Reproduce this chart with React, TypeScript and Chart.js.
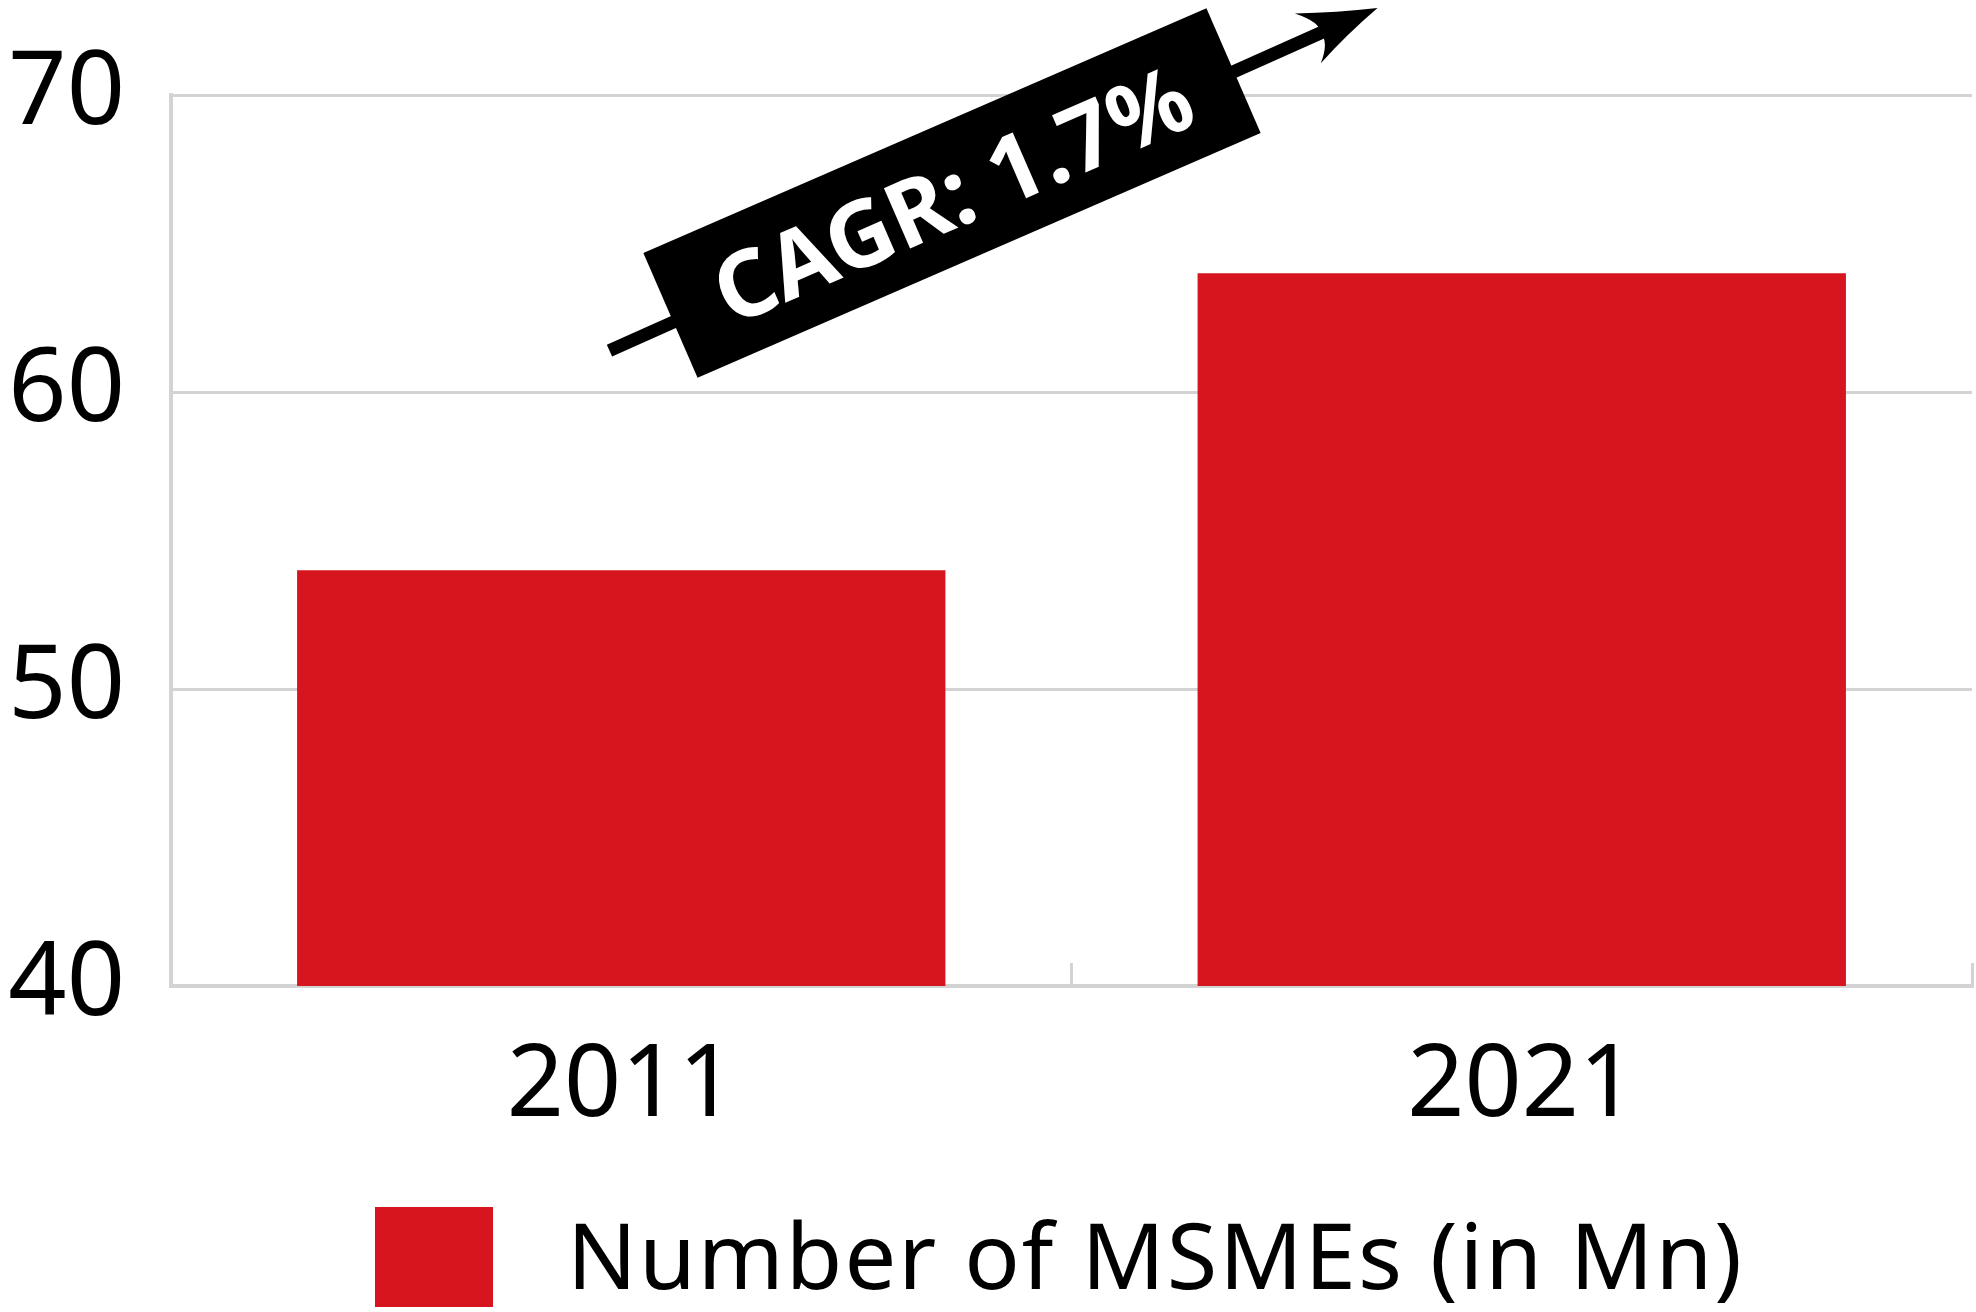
import React, { useEffect, useRef } from "react";
import { Chart, registerables } from "chart.js";

Chart.register(...registerables);

// ---- data ----
const categories = ["2011", "2021"];
const msmeValues = [54, 64];
const seriesLabel = "Number of MSMEs (in Mn)";
const yMin = 40;
const yMax = 70;
const yStep = 10;
const cagrLabel = "CAGR: 1.7%";

// ---- style ----
const FONT = "'Noto Sans', 'DejaVu Sans', sans-serif";
const RED = "#D7151F";
const GRID = "#D3D3D3";

export default function App() {
  const ref = useRef<HTMLCanvasElement>(null);

  useEffect(() => {
    document.body.style.margin = "0";
    const canvas = ref.current;
    if (!canvas) return;

    const overlay = {
      id: "overlay",
      afterDraw(chart: any) {
        const ctx = chart.ctx as CanvasRenderingContext2D;
        // ----- legend -----
        ctx.save();
        ctx.fillStyle = RED;
        ctx.fillRect(375, 1207, 118, 100);
        ctx.fillStyle = "#000";
        ctx.font = `400 92px ${FONT}`;
        (ctx as any).letterSpacing = "2px";
        ctx.textAlign = "left";
        ctx.textBaseline = "middle";
        ctx.fillText(chart.data.datasets[0].label, 567, 1263);
        ctx.restore();

        // ----- CAGR annotation -----
        ctx.save();
        ctx.translate(952, 193);
        ctx.rotate((-23.5 * Math.PI) / 180);
        // arrow shaft
        ctx.strokeStyle = "#000";
        ctx.lineWidth = 13;
        ctx.beginPath();
        ctx.moveTo(-377, 8);
        ctx.lineTo(420, 0);
        ctx.stroke();
        // arrow head (swept)
        ctx.fillStyle = "#000";
        ctx.beginPath();
        ctx.moveTo(464, 0);
        ctx.quadraticCurveTo(425, -12, 386, -28);
        ctx.quadraticCurveTo(406, -10, 402, 0);
        ctx.quadraticCurveTo(406, 12, 390, 28);
        ctx.quadraticCurveTo(425, 12, 464, 0);
        ctx.closePath();
        ctx.fill();
        // black box
        ctx.fillRect(-307, -68, 614, 136);
        // text
        ctx.fillStyle = "#fff";
        ctx.font = `700 92px ${FONT}`;
        ctx.textAlign = "center";
        ctx.textBaseline = "middle";
        ctx.fillText(cagrLabel, 0, 8);
        ctx.restore();
      },
    };

    const chart = new Chart(canvas, {
      type: "bar",
      data: {
        labels: categories,
        datasets: [
          {
            label: seriesLabel,
            data: msmeValues,
            backgroundColor: RED,
            borderWidth: 0,
            categoryPercentage: 1,
            barPercentage: 0.72,
          },
        ],
      },
      options: {
        responsive: false,
        animation: false,
        devicePixelRatio: 1,
        layout: { padding: { top: 95, right: 4, left: 0, bottom: 0 } },
        plugins: {
          legend: { display: false },
          tooltip: { enabled: false },
        },
        scales: {
          x: {
            grid: {
              display: true,
              drawOnChartArea: false,
              drawTicks: true,
              tickLength: -23,
              color: GRID,
              lineWidth: 3,
              offset: true,
            },
            border: { display: true, color: GRID, width: 4 },
            ticks: {
              color: "#000",
              font: { family: FONT, size: 100, weight: "400" },
              padding: 65,
            },
            afterFit(s: any) {
              s.height = 326;
            },
          },
          y: {
            min: yMin,
            max: yMax,
            ticks: {
              stepSize: yStep,
              color: "#000",
              font: { family: FONT, size: 102, weight: "400" },
              padding: 46,
            },
            grid: { color: GRID, lineWidth: 3, drawTicks: false },
            border: { display: true, color: GRID, width: 4 },
            afterFit(s: any) {
              s.width = 171;
              s.paddingTop = 0;
              s.paddingBottom = 0;
            },
          },
        },
      },
      plugins: [overlay],
    });

    return () => chart.destroy();
  }, []);

  return (
    <div style={{ width: 1976, height: 1312, background: "#fff" }}>
      <canvas ref={ref} width={1976} height={1312} style={{ display: "block" }} />
    </div>
  );
}
